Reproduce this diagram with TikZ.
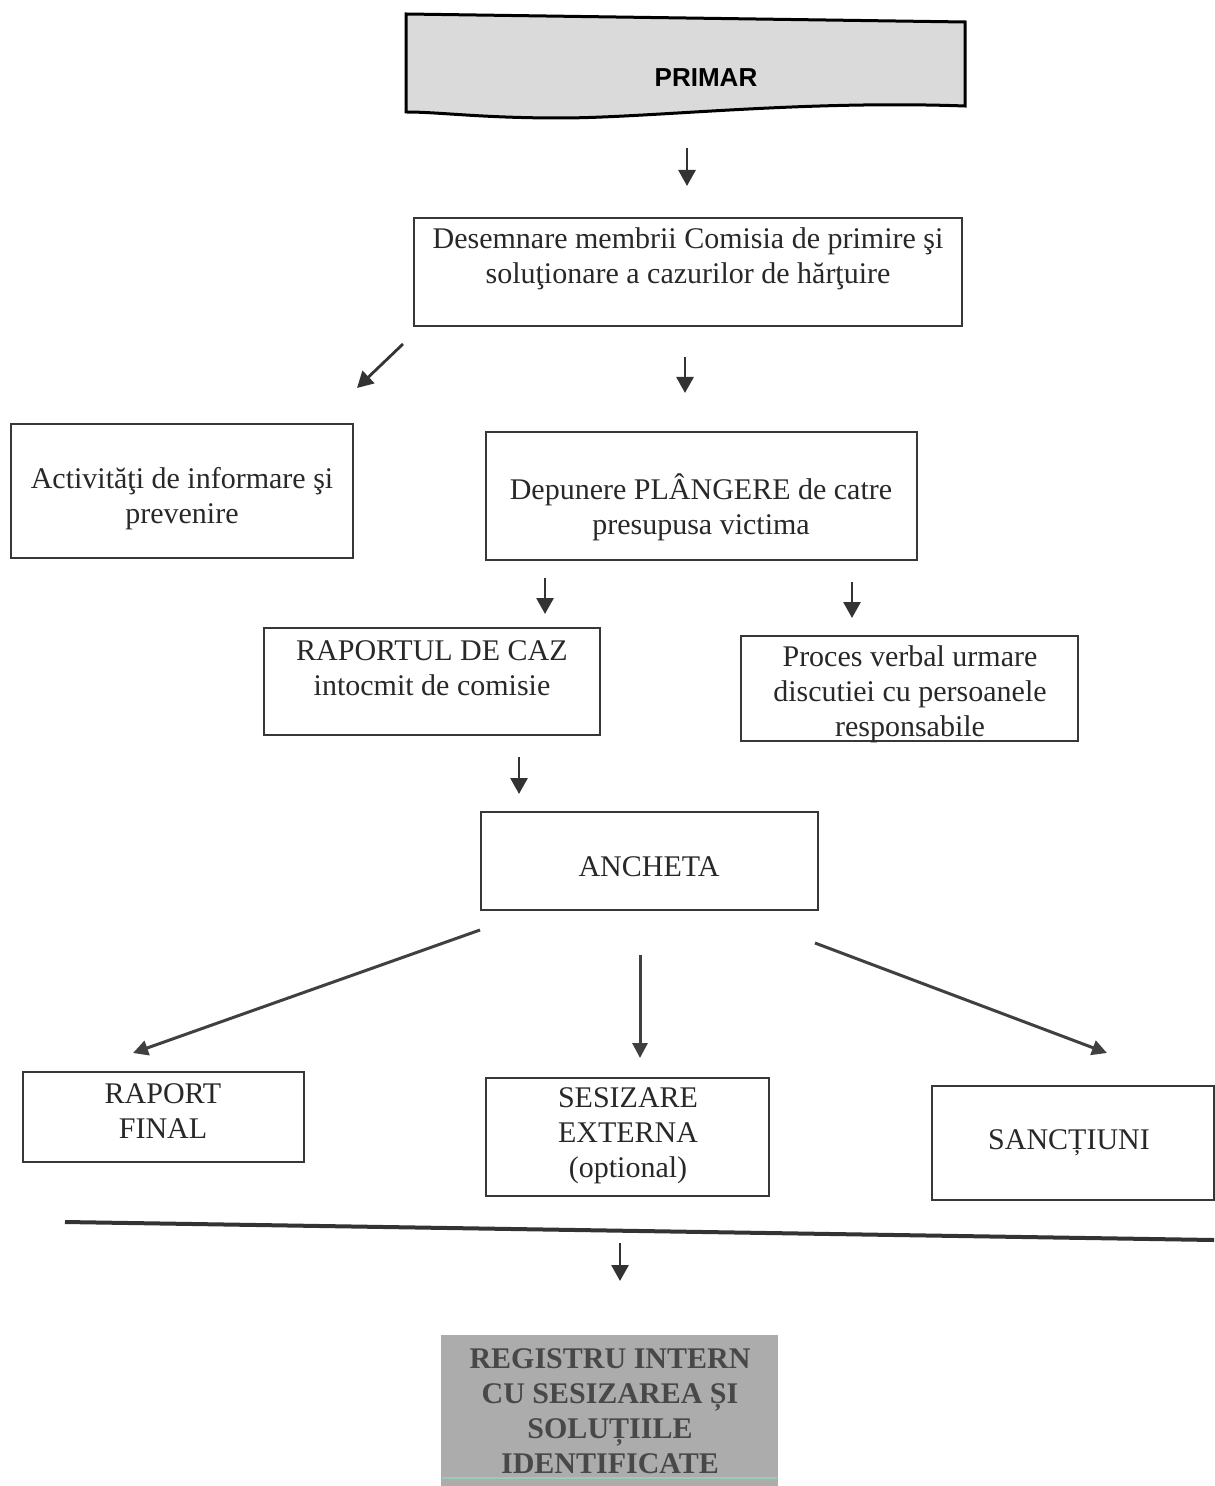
\documentclass[tikz,border=0pt]{standalone}
\usepackage{fontspec}
\setmainfont{Liberation Serif}
\newfontfamily\primarfont{Liberation Sans}
\usetikzlibrary{arrows.meta}
\definecolor{boxline}{RGB}{55,55,55}
\definecolor{primfill}{RGB}{218,218,218}
\definecolor{regfill}{RGB}{172,172,172}
\definecolor{regtext}{RGB}{72,72,72}
\definecolor{txtcol}{RGB}{40,40,40}
\tikzset{
  box/.style={draw=boxline, line width=0.9pt, rectangle, inner sep=0pt},
  txt/.style={align=center, font=\fontsize{15}{17.5}\selectfont, text=txtcol, inner sep=0pt},
  arr/.style={line width=1.4pt, draw=black!80, fill=black!80, -{Triangle[length=8pt,width=8.5pt]}},
  bigarr/.style={line width=1.5pt, draw=black!75, fill=black!75, -{Triangle[length=7.5pt,width=7.5pt]}}
}
\begin{document}
\begin{tikzpicture}[x=0.5pt,y=-0.5pt]
\useasboundingbox (0,0) rectangle (1214,1486);
% PRIMAR
\draw[line width=1.5pt, fill=primfill] (406,14) -- (965,22) -- (965,106)
  .. controls (800,100) and (650,118) .. (560,118)
  .. controls (480,118) and (440,112) .. (406,112) -- cycle;
\node[font=\primarfont\bfseries\fontsize{13}{15}\selectfont, inner sep=0pt] (primar) at (706,78) {PRIMAR};

% Desemnare
\node[box, minimum width=274pt, minimum height=54pt] (desem) at (688,272) {};
\node[txt] (desemt) at (688,259) {Desemnare membrii Comisia de primire şi\\soluţionare a cazurilor de hărţuire};

% Activitati
\node[box, minimum width=171pt, minimum height=67pt] (activ) at (182,491) {};
\node[txt] (activt) at (182,499) {Activităţi de informare şi\\prevenire};

% Depunere
\node[box, minimum width=215.5pt, minimum height=64pt] (depun) at (701.5,496) {};
\node[txt] (depunt) at (701,507) {Depunere PLÂNGERE de catre\\presupusa victima};

% Raportul de caz
\node[box, minimum width=168pt, minimum height=53.5pt] (rapcaz) at (432,681.5) {};
\node[txt] (rapcazt) at (432,668.5) {RAPORTUL DE CAZ\\intocmit de comisie};

% Proces verbal
\node[box, minimum width=168.5pt, minimum height=52.5pt] (proces) at (909.5,688.5) {};
\node[txt] (procest) at (910,694) {Proces verbal urmare\\discutiei cu persoanele\\responsabile};

% Ancheta
\node[box, minimum width=168.5pt, minimum height=49pt] (anch) at (649.5,861) {};
\node[txt] (ancht) at (649,867) {ANCHETA};

% Raport final
\node[box, minimum width=140.5pt, minimum height=45pt] (rapfin) at (163.5,1117) {};
\node[txt] (rapfint) at (163,1111.5) {RAPORT\\FINAL};

% Sesizare externa
\node[box, minimum width=141.5pt, minimum height=59pt] (sesiz) at (627.5,1137) {};
\node[txt] (sesizt) at (628,1136) {SESIZARE\\EXTERNA\\(optional)};

% Sanctiuni
\node[box, minimum width=141pt, minimum height=57pt] (sanct) at (1073,1143) {};
\node[txt] (sanctt) at (1069,1143) {SANCȚIUNI};

% Separator line
\coordinate (sepl) at (65,1222);
\coordinate (sepr) at (1214,1240);
\draw[line width=2pt, draw=black!80] (sepl) -- (sepr);

% Registru
\node[rectangle, fill=regfill, minimum width=168.5pt, minimum height=75.5pt, inner sep=0pt] (reg) at (609.5,1410.75) {};
\draw[line width=1pt, draw={rgb,255:red,150;green,205;blue,185}] (442,1478) -- (777,1478);
\node[txt, font=\bfseries\fontsize{15}{17.5}\selectfont, text=regtext] (regt) at (610,1411) {REGISTRU INTERN\\CU SESIZAREA ȘI\\SOLUȚIILE\\IDENTIFICATE};

% Arrows (free-standing)
\coordinate (a1s) at (687,148); \coordinate (a1e) at (687,186);
\coordinate (a2s) at (403,344); \coordinate (a2e) at (357,388);
\coordinate (a3s) at (685,357); \coordinate (a3e) at (685,393);
\coordinate (a4s) at (545,578); \coordinate (a4e) at (545,614);
\coordinate (a5s) at (852,582); \coordinate (a5e) at (852,618);
\coordinate (a6s) at (519,757); \coordinate (a6e) at (519,794);
\coordinate (a7s) at (480,930); \coordinate (a7e) at (133,1053);
\coordinate (a8s) at (640,955); \coordinate (a8e) at (640,1058);
\coordinate (a9s) at (815,943); \coordinate (a9e) at (1107,1053);
\coordinate (a10s) at (620,1243); \coordinate (a10e) at (620,1281);
\draw[arr] (a1s) -- (a1e);
\draw[arr] (a2s) -- (a2e);
\draw[arr] (a3s) -- (a3e);
\draw[arr] (a4s) -- (a4e);
\draw[arr] (a5s) -- (a5e);
\draw[arr] (a6s) -- (a6e);
\draw[bigarr] (a7s) -- (a7e);
\draw[bigarr] (a8s) -- (a8e);
\draw[bigarr] (a9s) -- (a9e);
\draw[arr] (a10s) -- (a10e);
\end{tikzpicture}
\end{document}
